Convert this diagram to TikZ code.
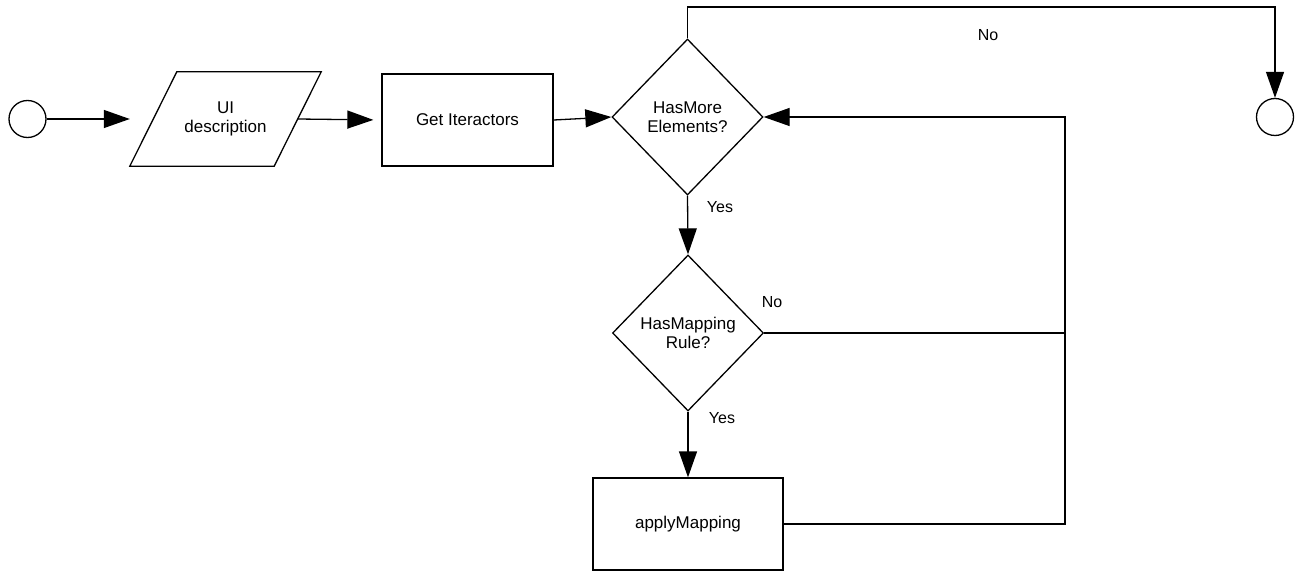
\documentclass[tikz,border=0pt]{standalone}
\usepackage{fontspec}
\setmainfont{Liberation Sans}
\usetikzlibrary{arrows.meta,shapes.geometric}

\tikzset{
  flow/.style={line width=1.3pt, draw=black},
  arrowline/.style={flow, -{Triangle[length=26pt,width=18pt]}},
  terminal/.style={circle, flow, minimum size=37pt, inner sep=0pt},
  process/.style={rectangle, flow, inner sep=0pt, align=center},
  decision/.style={diamond, flow, inner sep=0pt, align=center,
    minimum width=151pt, minimum height=156pt},
  % frame of the data box; its slanted outline is drawn from the anchors
  iodata/.style={rectangle, inner sep=0pt, align=center,
    minimum width=191pt, minimum height=94pt},
  txt/.style={font=\fontsize{17pt}{19pt}\selectfont},
  lbl/.style={font=\fontsize{16pt}{19pt}\selectfont, inner sep=0pt}
}

\begin{document}
\begin{tikzpicture}[x=1pt, y=-1pt]
  \useasboundingbox (0,0) rectangle (1300,572);

  % nodes
  \node[terminal] (start) at (27.5,119) {};
  \node[iodata, txt] (ui) at (225.5,119) {UI\\description};
  \draw[flow] (ui.south west) -- ([xshift=47pt]ui.north west) -- (ui.north east)
    -- ([xshift=-47pt]ui.south east) -- cycle;
  \node[process, txt, minimum width=171pt, minimum height=92pt] (iter) at (467.5,120) {Get Iteractors};
  \node[decision, txt] (more) at (687.5,117) {HasMore\\Elements?};
  \node[decision, txt] (rule) at (688,333) {HasMapping\\Rule?};
  \node[process, txt, minimum width=190pt, minimum height=92pt] (apply) at (688,524) {applyMapping};
  \node[terminal] (stop) at (1275,117) {};

  % routing points
  \coordinate (topright) at (1275,7);
  \coordinate (loop) at (1065,333);

  % connectors
  \draw[arrowline] (start) -- (ui.west);
  \draw[arrowline, shorten >=8pt] ([xshift=-23.5pt]ui.east) -- (iter.west);
  \draw[arrowline] (iter.east) -- (more.west);
  \draw[arrowline] (more.north) |- (topright) -- (stop.north);
  \draw[arrowline] (more.south) -- (rule.north);
  \draw[arrowline] (rule.south) -- (apply.north);
  \draw[flow] (rule.east) -- (loop);
  \draw[arrowline] (apply.east) -| (loop) |- (more.east);

  % branch labels
  \node[lbl] (yes1) at (720,207) {Yes};
  \node[lbl] (no1) at (772,302) {No};
  \node[lbl] (yes2) at (722,418) {Yes};
  \node[lbl] (no2) at (988,35) {No};
\end{tikzpicture}
\end{document}
